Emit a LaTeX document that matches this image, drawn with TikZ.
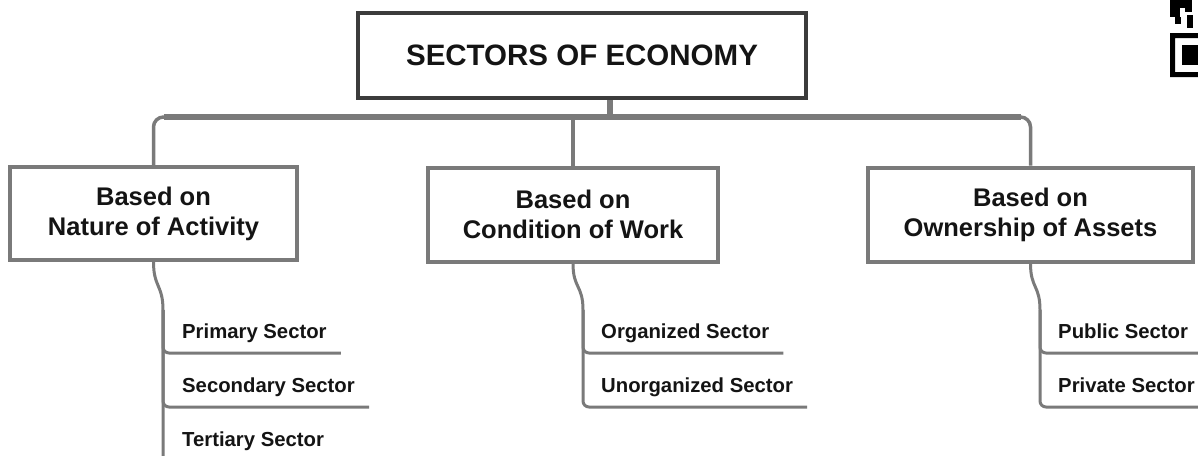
\documentclass[tikz,border=0pt]{standalone}
\usepackage{fontspec}
\setmainfont{Liberation Sans}
\usetikzlibrary{positioning}
\definecolor{lineColor}{RGB}{122,122,122}
\definecolor{rootColor}{RGB}{60,60,60}
\definecolor{textColor}{RGB}{20,20,20}
\tikzstyle{chart} = [x = 1pt, y = -1pt]
\tikzstyle{rootBox} = [draw=rootColor, line width=3.5pt, fill=white, minimum width=448pt, minimum height=85pt, font=\fontsize{29.5}{34}\selectfont\bfseries, text=textColor]
\tikzstyle{groupBox} = [draw=lineColor, line width=4pt, fill=white, minimum height=93pt, align=center, font=\fontsize{25.5}{30}\selectfont\bfseries, text=textColor]
\tikzstyle{sectorText} = [anchor=south west, inner xsep=14pt, inner ysep=0pt, text height=15pt, text depth=4pt, minimum height=40pt, font=\fontsize{20.3}{24}\selectfont\bfseries, text=textColor]
\tikzstyle{trunkLine} = [color=lineColor, line width=6pt]
\tikzstyle{stemLine} = [color=lineColor, line width=3.5pt, rounded corners=10pt]
\tikzstyle{leafLine} = [color=lineColor, line width=3pt, rounded corners=6pt]
\newcommand{\qrBit}[4]{\fill[black] (#1,#2) rectangle (#3,#4);}

\begin{document}
\begin{tikzpicture}[chart]
      \useasboundingbox (0,0) rectangle (1198,455);
      \fill[white] (0,0) rectangle (1198,455);

      % top and the three groups
      \node[rootBox] (root) at (582,55.5) {SECTORS OF ECONOMY};
      \node[groupBox, minimum width=287pt] (nature) at (153.5,213.5) {Based on\\Nature of Activity};
      \node[groupBox, minimum width=290pt, minimum height=94pt] (condition) at (573,214.5) {Based on\\Condition of Work};
      \node[groupBox, minimum width=325pt, minimum height=94pt] (ownership) at (1030.5,214.5) {Based on\\Ownership of Assets};

      \coordinate (bar) at (610,117);
      \draw[trunkLine] (bar |- root.south) -- (bar);
      \draw[stemLine] (nature.north) |- (bar) -| (ownership.north);
      \draw[stemLine] (condition.north) -- (condition.north |- bar);
      \draw[trunkLine] ([xshift=10pt]nature.north |- bar) -- ([xshift=-10pt]ownership.north |- bar);

      % sectors
      \coordinate (natureSpine) at (163,310);
      \coordinate (conditionSpine) at (583,310);
      \coordinate (ownershipSpine) at (1040,310);

      \node[sectorText] (primary) at (168,353) {Primary Sector};
      \node[sectorText] (secondary) at (168,407) {Secondary Sector};
      \node[sectorText] (tertiary) at (168,461) {Tertiary Sector};
      \node[sectorText] (organized) at (587,353) {Organized Sector};
      \node[sectorText] (unorganized) at (587,407) {Unorganized Sector};
      \node[sectorText] (public) at (1044,353) {Public Sector};
      \node[sectorText] (private) at (1044,407) {Private Sector};

      \draw[leafLine] (nature.south) .. controls +(0,25) and +(0,-25) .. (natureSpine);
      \draw[leafLine] (condition.south) .. controls +(0,25) and +(0,-25) .. (conditionSpine);
      \draw[leafLine] (ownership.south) .. controls +(0,25) and +(0,-25) .. (ownershipSpine);
      \foreach \leaf in {primary, secondary, tertiary}
        \draw[leafLine] (natureSpine) |- (\leaf.south east);
      \foreach \leaf in {organized, unorganized}
        \draw[leafLine] (conditionSpine) |- (\leaf.south east);
      \foreach \leaf in {public, private}
        \draw[leafLine] (ownershipSpine) |- (\leaf.south east);

      % corner of the code
      \qrBit{1170}{0}{1192}{8}
      \qrBit{1170}{8}{1180}{17}
      \qrBit{1185}{8}{1192}{12}
      \qrBit{1175}{17}{1181}{24}
      \qrBit{1187}{15}{1193}{28}
      \fill[black, even odd rule] (1170,33) rectangle (1214,77) (1175,38) rectangle (1209,72);
      \qrBit{1182}{45}{1202}{65}
    \end{tikzpicture}
\end{document}
